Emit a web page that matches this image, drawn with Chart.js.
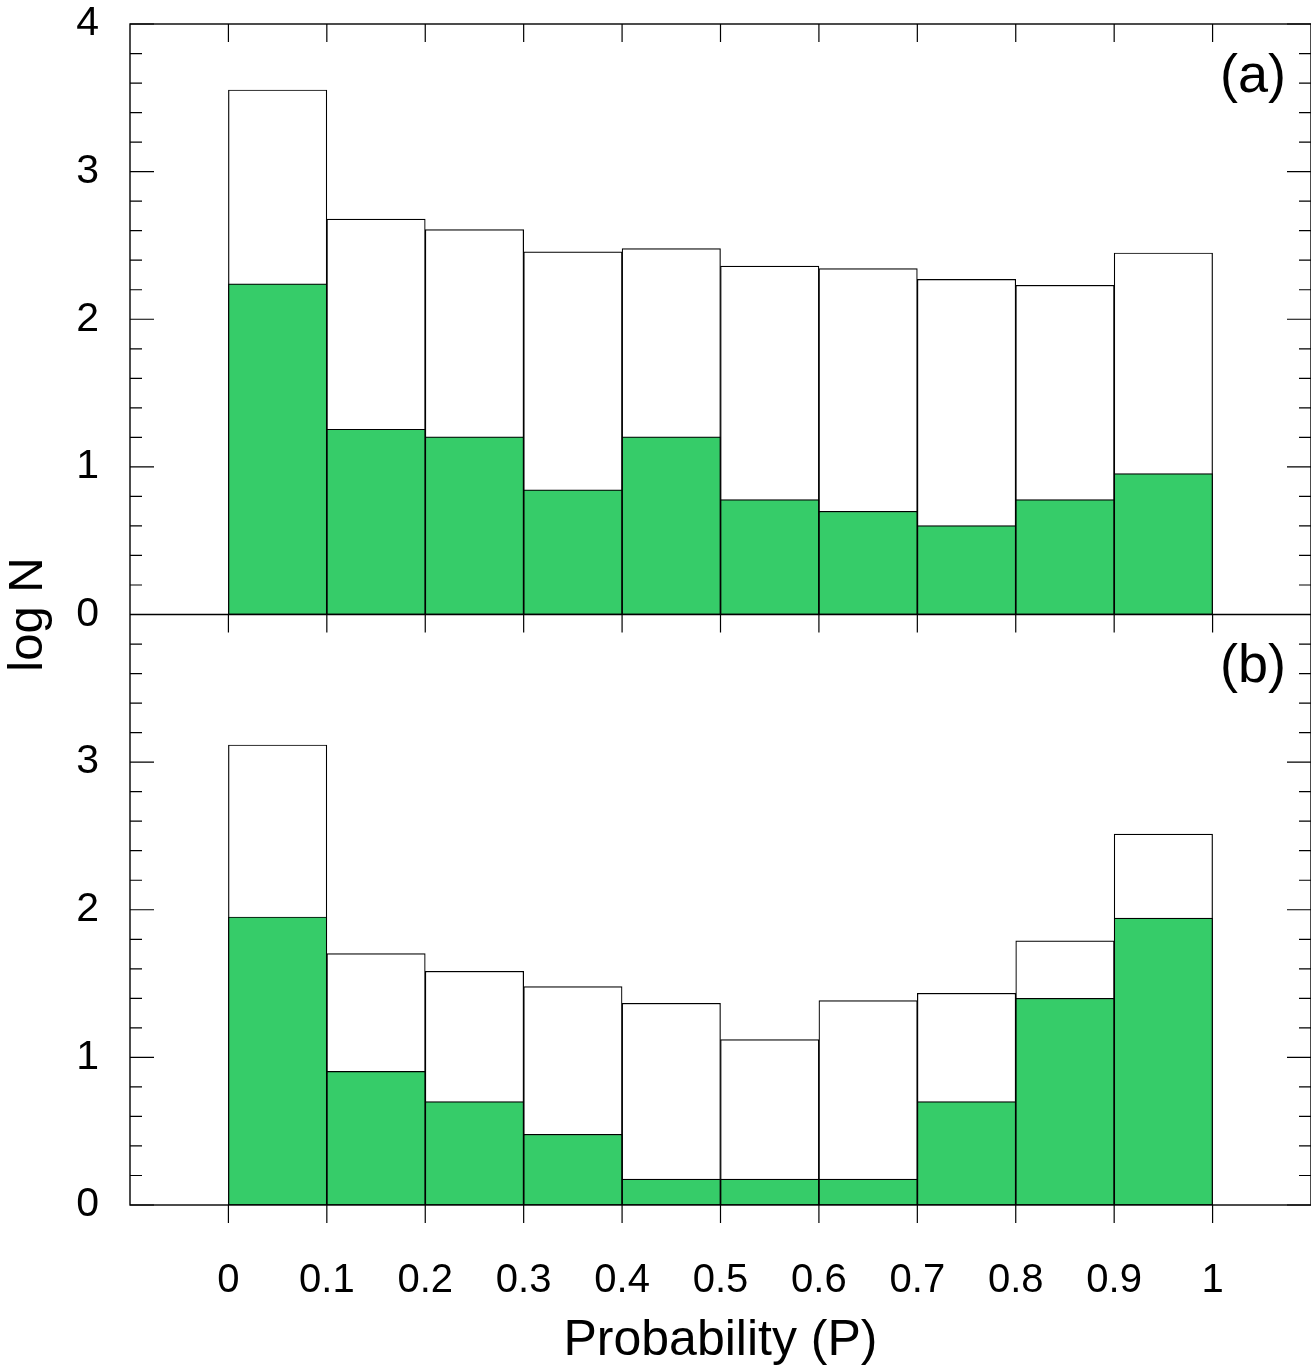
<!DOCTYPE html>
<html>
<head>
<meta charset="utf-8">
<script src="https://cdn.jsdelivr.net/npm/chart.js@4.4.1/dist/chart.umd.min.js"></script>
<style>
  html, body { margin: 0; padding: 0; background: #fff; }
  #wrap { width: 1311px; height: 1370px; }
</style>
</head>
<body>
<div id="wrap"><canvas id="chart" width="1311" height="1370"></canvas></div>
<script>
// bin centres (P), bin width 0.1
const binCenters = [0.05, 0.15, 0.25, 0.35, 0.45, 0.55, 0.65, 0.75, 0.85, 0.95]

// panel (a)
const totalA = [3.553, 2.678, 2.607, 2.456, 2.479, 2.36, 2.343, 2.27, 2.23, 2.449]
const greenA = [2.24, 1.255, 1.204, 0.845, 1.204, 0.778, 0.699, 0.602, 0.778, 0.954]

// panel (b)
const totalB = [3.116, 1.703, 1.583, 1.479, 1.366, 1.12, 1.384, 1.434, 1.789, 2.513]
const greenB = [1.951, 0.905, 0.70, 0.479, 0.176, 0.176, 0.176, 0.70, 1.40, 1.944]

const xTicks = [0, 0.1, 0.2, 0.3, 0.4, 0.5, 0.6, 0.7, 0.8, 0.9, 1]
const panelLabels = ['(a)', '(b)']

const GREEN = '#36cc69'
const FONT = 'Arial, "Liberation Sans", Helvetica, sans-serif'

const toPoints = (vals) => vals.map((v, i) => ({ x: binCenters[i], y: v }))

function barSet(vals, yAxisID, fill, order) {
  return {
    data: toPoints(vals),
    yAxisID: yAxisID,
    backgroundColor: fill,
    borderColor: '#000',
    borderWidth: 1.2,
    borderSkipped: false,
    barPercentage: 1,
    categoryPercentage: 1,
    grouped: false,
    order: order
  }
}

// frame, inward ticks, panel labels, y title
const framePlugin = {
  id: 'frame',
  afterDatasetsDraw(chart) {
    const ctx = chart.ctx
    const area = chart.chartArea
    const x = chart.scales.x
    const panels = [chart.scales.yA, chart.scales.yB]

    ctx.save()
    ctx.strokeStyle = '#000'
    ctx.lineWidth = 1.4

    // outer frame and panel divider
    ctx.strokeRect(area.left, area.top, area.right - area.left, area.bottom - area.top)
    ctx.beginPath()
    ctx.moveTo(area.left, panels[1].top)
    ctx.lineTo(area.right, panels[1].top)
    ctx.stroke()

    ctx.lineWidth = 1.2
    ctx.beginPath()
    // x ticks: top of each panel pointing down, bottom axis pointing out
    xTicks.forEach(v => {
      const px = x.getPixelForValue(v)
      panels.forEach(p => {
        ctx.moveTo(px, p.top)
        ctx.lineTo(px, p.top + 18)
      })
      ctx.moveTo(px, area.bottom)
      ctx.lineTo(px, area.bottom + 18)
    })
    // y ticks on both sides, major 1, minor 0.2
    panels.forEach(p => {
      for (let k = 0; k <= 20; k++) {
        const v = k / 5
        const py = p.getPixelForValue(v)
        const len = (k % 5 === 0) ? 24 : 12
        ctx.moveTo(area.left, py)
        ctx.lineTo(area.left + len, py)
        ctx.moveTo(area.right, py)
        ctx.lineTo(area.right - len, py)
      }
    })
    ctx.stroke()

    // panel labels
    ctx.fillStyle = '#000'
    ctx.font = '54px ' + FONT
    ctx.textAlign = 'right'
    ctx.textBaseline = 'middle'
    panels.forEach((p, i) => {
      ctx.fillText(panelLabels[i], area.right - 25, p.top + 53)
    })

    // shared y title
    ctx.font = '49px ' + FONT
    ctx.textAlign = 'center'
    ctx.translate(28, (area.top + area.bottom) / 2)
    ctx.rotate(-Math.PI / 2)
    ctx.fillText('log N', 0, 0)
    ctx.restore()
  }
}

const yAxis = (weight, showTop) => ({
  type: 'linear',
  position: 'left',
  stack: 'panels',
  stackWeight: 1,
  weight: weight,
  min: 0,
  max: 4,
  grid: { display: false },
  border: { display: false },
  ticks: {
    stepSize: 1,
    padding: 23,
    color: '#000',
    font: { family: FONT, size: 41 },
    callback: (v) => (v === 4 && !showTop) ? '' : String(v)
  },
  afterFit: (scale) => {
    scale.width = 130
    scale.paddingTop = 0
    scale.paddingBottom = 0
  }
})

new Chart(document.getElementById('chart'), {
  type: 'bar',
  data: {
    datasets: [
      barSet(greenA, 'yA', GREEN, 0),
      barSet(greenB, 'yB', GREEN, 0),
      barSet(totalA, 'yA', '#fff', 1),
      barSet(totalB, 'yB', '#fff', 1)
    ]
  },
  options: {
    responsive: false,
    animation: false,
    layout: { padding: { top: 24, right: 0, left: 0, bottom: 0 } },
    plugins: {
      legend: { display: false },
      tooltip: { enabled: false }
    },
    scales: {
      x: {
        type: 'linear',
        position: 'bottom',
        offset: false,
        min: -0.1,
        max: 1.1,
        grid: { display: false, offset: false },
        border: { display: false },
        ticks: {
          stepSize: 0.1,
          padding: 44,
          maxRotation: 0,
          autoSkip: false,
          color: '#000',
          font: { family: FONT, size: 40 },
          callback: (v) => {
            const r = Math.round(v * 10) / 10
            return (r < 0 || r > 1) ? '' : String(r)
          }
        },
        title: {
          display: true,
          text: 'Probability (P)',
          color: '#000',
          font: { family: FONT, size: 50, lineHeight: 1.1 },
          padding: { top: 0, bottom: 1 }
        },
        afterFit: (scale) => {
          scale.height = 165
          scale.paddingLeft = 0
          scale.paddingRight = 0
        }
      },
      yA: yAxis(2, true),
      yB: yAxis(1, false)
    }
  },
  plugins: [framePlugin]
})
</script>
</body>
</html>
